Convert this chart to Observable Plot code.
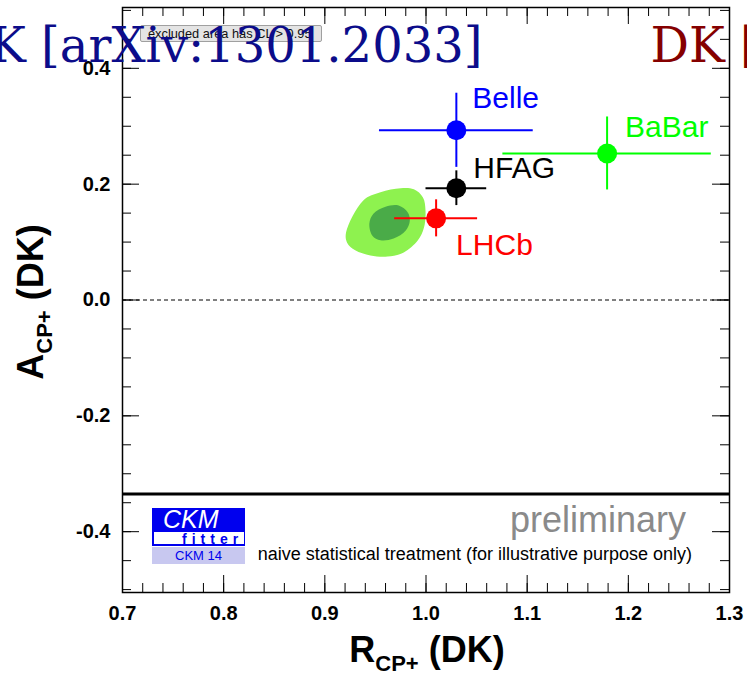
<!DOCTYPE html>
<html><head><meta charset="utf-8">
<script src="https://cdn.jsdelivr.net/npm/d3@7"></script>
<script src="https://cdn.jsdelivr.net/npm/@observablehq/plot@0.6"></script>
<style>
html,body{margin:0;padding:0;background:#fff;overflow:hidden}
#wrap{position:relative;width:747px;height:675px;font-family:"Liberation Sans",Arial,sans-serif}
#wrap svg{position:absolute;left:0;top:0;z-index:1}
.ov{position:absolute;white-space:nowrap;line-height:1;z-index:2}
</style></head><body><div id="wrap"></div>
<script>
// ---- data ----
const experiments = ["Belle", "BaBar", "HFAG", "LHCb"];
const rcp    = [1.030, 1.179, 1.030, 1.010];
const rcpErr = [0.076, 0.103, 0.030, 0.041];
const acp    = [0.293, 0.253, 0.193, 0.141];
const acpErr = [0.064, 0.063, 0.030, 0.032];
const expColors = ["#0000ff", "#00ff00", "#000000", "#ff0000"];

// confidence-region contours (outer: light, inner: dark)
const outerR = [0.921, 0.938, 0.955, 0.975, 0.988, 0.997, 0.9995, 0.998, 0.992, 0.978, 0.962, 0.945, 0.930, 0.922];
const outerA = [0.117, 0.172, 0.186, 0.193, 0.191, 0.177, 0.155, 0.125, 0.103, 0.082, 0.075, 0.077, 0.086, 0.099];
const innerR = [0.944, 0.948, 0.960, 0.973, 0.982, 0.984, 0.980, 0.968, 0.955, 0.947];
const innerA = [0.132, 0.149, 0.161, 0.163, 0.151, 0.137, 0.120, 0.106, 0.103, 0.111];

const zeroLine = [0];
const boundaryLine = [-0.335];

const xMajor = [0.7, 0.8, 0.9, 1.0, 1.1, 1.2, 1.3];
const yMajor = [-0.4, -0.2, 0.0, 0.2, 0.4];
const xMinor = d3.range(0.70, 1.3001, 0.02);
const yMinor = d3.range(-0.50, 0.5001, 0.05);

// ---- tables built from the arrays ----
const points = experiments.map((name, i) => ({name, r: rcp[i], rErr: rcpErr[i], a: acp[i], aErr: acpErr[i], color: expColors[i]}));
const outer = outerR.map((r, i) => ({r, a: outerA[i]}));
const inner = innerR.map((r, i) => ({r, a: innerA[i]}));

const W = 747, H = 675;
const mL = 122, mR = 18, mT = 7, mB = 83;
const FW = W - mL - mR, FH = H - mT - mB;

const labelOffsets = {Belle: [16, -32], BaBar: [18, -26], HFAG: [17, -20], LHCb: [20, 27]};

const labelMarks = experiments.map(n => Plot.text(points.filter(d => d.name === n), {
  x: "r", y: "a", text: "name", fill: "color", textAnchor: "start",
  dx: labelOffsets[n][0], dy: labelOffsets[n][1], fontSize: 30
}));

const plot = Plot.plot({
  width: W, height: H,
  marginLeft: mL, marginRight: mR, marginTop: mT, marginBottom: mB,
  x: {domain: [0.7, 1.3]},
  y: {domain: [-0.505, 0.505]},
  color: {type: "identity"},
  style: {background: "transparent", fontFamily: "'Liberation Sans', Arial, sans-serif", color: "black"},
  marks: [
    Plot.line(outer, {x: "r", y: "a", curve: "catmull-rom-closed", fill: "#8ef24f", stroke: "none"}),
    Plot.line(inner, {x: "r", y: "a", curve: "catmull-rom-closed", fill: "#4aab48", stroke: "none"}),
    Plot.ruleY(zeroLine, {y: d => d, strokeDasharray: "4,3", strokeWidth: 1, stroke: "black"}),
    Plot.ruleY(boundaryLine, {y: d => d, strokeWidth: 3, stroke: "black"}),
    Plot.ruleY(points, {y: "a", x1: d => d.r - d.rErr, x2: d => d.r + d.rErr, stroke: "color", strokeWidth: 2}),
    Plot.ruleX(points, {x: "r", y1: d => d.a - d.aErr, y2: d => d.a + d.aErr, stroke: "color", strokeWidth: 2}),
    Plot.dot(points, {x: "r", y: "a", r: 10, fill: "color", stroke: "none"}),
    ...labelMarks,
    // ROOT-style inward ticks on all four sides
    Plot.tickX(xMajor, {x: d => d, insetTop: FH - 17, stroke: "black"}),
    Plot.tickX(xMajor, {x: d => d, insetBottom: FH - 17, stroke: "black"}),
    Plot.tickX(xMinor, {x: d => d, insetTop: FH - 9, stroke: "black"}),
    Plot.tickX(xMinor, {x: d => d, insetBottom: FH - 9, stroke: "black"}),
    Plot.tickY(yMajor, {y: d => d, insetRight: FW - 17, stroke: "black"}),
    Plot.tickY(yMajor, {y: d => d, insetLeft: FW - 17, stroke: "black"}),
    Plot.tickY(yMinor, {y: d => d, insetRight: FW - 9, stroke: "black"}),
    Plot.tickY(yMinor, {y: d => d, insetLeft: FW - 9, stroke: "black"}),
    Plot.frame({stroke: "black", strokeWidth: 1.5}),
    Plot.axisX(xMajor, {anchor: "bottom", tickSize: 0, tickPadding: 13, tickFormat: d => d.toFixed(1), fontSize: 20, fontWeight: "bold", label: null}),
    Plot.axisY(yMajor, {anchor: "left", tickSize: 0, tickPadding: 12, tickFormat: d => d.toFixed(1), fontSize: 20, fontWeight: "bold", label: null}),
    // overflowing titles
    Plot.text(["K [arXiv:1301.2033]"], {text: d => d, frameAnchor: "top-left", dx: 360, dy: 54, textAnchor: "end", lineAnchor: "bottom", fontFamily: "DejaVu Serif", fontSize: 48, fill: "#0c0c8a"}),
    Plot.text(["DK ["], {text: d => d, frameAnchor: "top-left", dx: 528, dy: 54, textAnchor: "start", lineAnchor: "bottom", fontFamily: "DejaVu Serif", fontSize: 48, fill: "#850000"})
  ]
});

const wrap = document.getElementById("wrap");
wrap.innerHTML = `
<div style="position:absolute;left:140px;top:25px;width:182px;height:17px;box-sizing:border-box;background:#e4e4e4;border:1px solid #a0a0a0;border-radius:2px;z-index:0;font-size:12.8px;line-height:15px;padding-left:7px;color:#111;white-space:nowrap">excluded area has CL &gt; 0.95</div>
<div class="ov" style="left:152px;top:508px;width:93px;height:38px;background:#0000ee"></div>
<div class="ov" style="left:154px;top:532px;width:90px;height:12px;background:#fff"></div>
<div class="ov" style="left:163px;top:507px;font-size:25px;font-style:italic;color:#fff">CKM</div>
<div class="ov" style="left:182px;top:531.5px;font-size:14px;font-weight:bold;color:#0000ee;letter-spacing:5px">fitter</div>
<div class="ov" style="left:152px;top:547px;width:93px;height:17px;background:#c8c8f0;color:#0000ee;font-size:13px;line-height:17px;text-align:center">CKM 14</div>
<div class="ov" style="right:${747 - 686}px;top:502px;font-size:36px;color:#8a8a8a">preliminary</div>
<div class="ov" style="right:${747 - 692}px;top:545px;font-size:18px;color:#000">naive statistical treatment (for illustrative purpose only)</div>
<div class="ov" style="left:427px;top:632px;transform:translateX(-50%);font-size:36px;font-weight:bold">R<span style="font-size:22px;position:relative;top:9px">CP+</span> (DK)</div>
<div class="ov" style="left:31px;top:302px;transform:translate(-50%,-50%) rotate(-90deg);font-size:36px;font-weight:bold">A<span style="font-size:22px;position:relative;top:9px">CP+</span> (DK)</div>
`;
wrap.appendChild(plot);
</script>
</body></html>
